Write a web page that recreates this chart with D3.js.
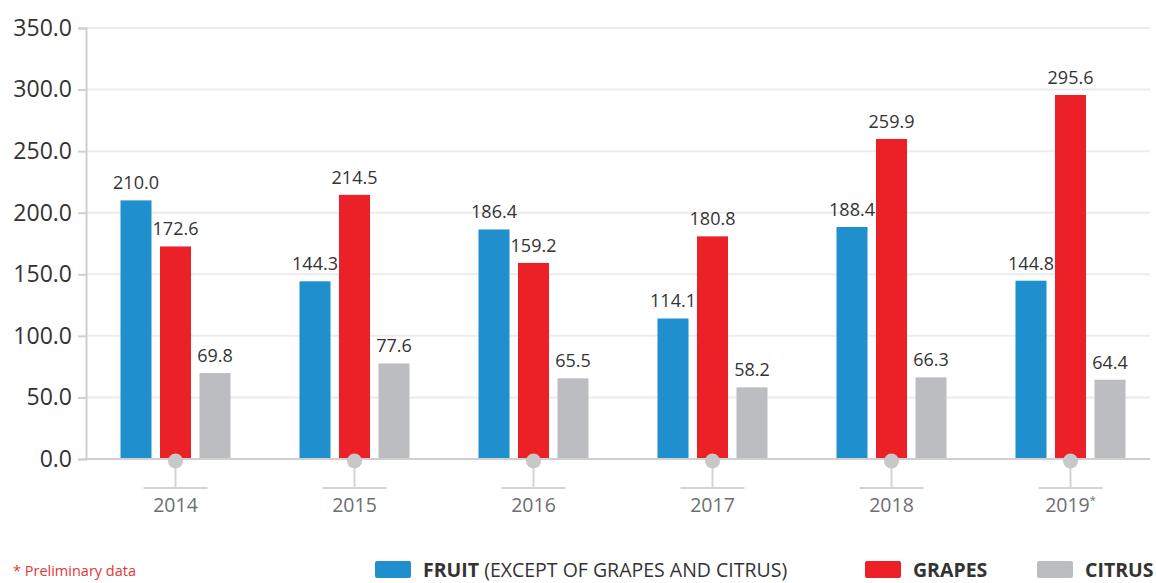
<!DOCTYPE html>
<html>
<head>
<meta charset="utf-8">
<script src="https://cdn.jsdelivr.net/npm/d3@7"></script>
<style>
  body { margin: 0; background: #fff; }
  svg { display: block; font-family: "Open Sans", sans-serif; }
</style>
</head>
<body>
<div id="chart"></div>
<script>
// Chart data
const years = ["2014", "2015", "2016", "2017", "2018", "2019"];
const fruit = [210.0, 144.3, 186.4, 114.1, 188.4, 144.8];
const grapes = [172.6, 214.5, 159.2, 180.8, 259.9, 295.6];
const citrus = [69.8, 77.6, 65.5, 58.2, 66.3, 64.4];
const yTicks = [0, 50, 100, 150, 200, 250, 300, 350];

const seriesNames = ["fruit", "grapes", "citrus"];
const colors = { fruit: "#1f8fce", grapes: "#ec2027", citrus: "#bcbdc0" };

const width = 1156, height = 583;
const plotLeft = 86, plotRight = 1160, plotTop = 28, plotBottom = 459;

const svg = d3.select("#chart").append("svg")
    .attr("width", width)
    .attr("height", height);

const x = d3.scaleBand().domain(years).range([plotLeft, plotRight]).padding(0);
const x1 = d3.scaleBand().domain(seriesNames).range([-55, 55]).paddingInner(0.215).paddingOuter(0);
const y = d3.scaleLinear().domain([0, 350]).range([plotBottom, plotTop]);

// gridlines
svg.append("g")
    .selectAll("line")
    .data(yTicks.filter(d => d > 0))
    .join("line")
    .attr("x1", plotLeft).attr("x2", 1150)
    .attr("y1", d => y(d)).attr("y2", d => y(d))
    .attr("stroke", "#ececec")
    .attr("stroke-width", 2);

// y axis
const yAxis = svg.append("g")
    .attr("transform", `translate(${plotLeft},0)`)
    .call(d3.axisLeft(y).tickValues(yTicks).tickFormat(d3.format(".1f")).tickSize(8).tickPadding(6));
yAxis.select(".domain").attr("stroke", "#cfcfcf").attr("stroke-width", 2);
yAxis.selectAll(".tick line").attr("stroke", "#cfcfcf").attr("stroke-width", 2);
yAxis.selectAll("text")
    .attr("fill", "#333")
    .style("font-size", "23px")
    .style("font-family", "'Open Sans', sans-serif");

// bars
const rows = years.map((yr, i) => ({ year: yr, fruit: fruit[i], grapes: grapes[i], citrus: citrus[i] }));

const groups = svg.append("g")
    .selectAll("g")
    .data(rows)
    .join("g")
    .attr("transform", d => `translate(${x(d.year) + x.bandwidth() / 2},0)`);

groups.selectAll("rect")
    .data(d => seriesNames.map(k => ({ key: k, value: d[k] })))
    .join("rect")
    .attr("x", d => x1(d.key))
    .attr("width", x1.bandwidth())
    .attr("y", d => y(d.value))
    .attr("height", d => y(0) - y(d.value))
    .attr("fill", d => colors[d.key]);

groups.selectAll("text.val")
    .data(d => seriesNames.map(k => ({ key: k, value: d[k] })))
    .join("text")
    .attr("class", "val")
    .attr("x", d => x1(d.key) + x1.bandwidth() / 2)
    .attr("y", d => y(d.value) - 11)
    .attr("text-anchor", "middle")
    .attr("fill", "#333")
    .style("font-size", "18px")
    .text(d => d3.format(".1f")(d.value));

// x baseline
svg.append("line")
    .attr("x1", plotLeft).attr("x2", 1150)
    .attr("y1", plotBottom).attr("y2", plotBottom)
    .attr("stroke", "#cfcfcf")
    .attr("stroke-width", 2);

// x tick markers (circle + stem + bracket)
const ticks = svg.append("g")
    .selectAll("g")
    .data(years)
    .join("g")
    .attr("transform", d => `translate(${x(d) + x.bandwidth() / 2},0)`);

ticks.append("line")
    .attr("x1", 0).attr("x2", 0)
    .attr("y1", plotBottom).attr("y2", 488)
    .attr("stroke", "#d4d4d4").attr("stroke-width", 2);
ticks.append("line")
    .attr("x1", -32).attr("x2", 32)
    .attr("y1", 488).attr("y2", 488)
    .attr("stroke", "#d4d4d4").attr("stroke-width", 2);
ticks.append("circle")
    .attr("cx", 0).attr("cy", 461).attr("r", 7.5)
    .attr("fill", "#c8c8c8");

const yearText = ticks.append("text")
    .attr("y", 512)
    .attr("text-anchor", "middle")
    .attr("fill", "#6d6e71")
    .style("font-size", "19.5px")
    .text(d => d);
yearText.filter(d => d === "2019")
    .append("tspan")
    .attr("dy", -8)
    .style("font-size", "11px")
    .text("*");

// footnote
svg.append("text")
    .attr("x", 13).attr("y", 576)
    .attr("fill", "#e8343a")
    .style("font-size", "14.5px")
    .text("* Preliminary data");

// legend
const legendItems = [
    { key: "fruit", x: 375, bold: "FRUIT", rest: " (EXCEPT OF GRAPES AND CITRUS)" },
    { key: "grapes", x: 865, bold: "GRAPES", rest: "" },
    { key: "citrus", x: 1037, bold: "CITRUS", rest: "" }
];

const legend = svg.append("g")
    .selectAll("g")
    .data(legendItems)
    .join("g")
    .attr("transform", d => `translate(${d.x},0)`);

legend.append("rect")
    .attr("x", 0).attr("y", 561)
    .attr("width", 36).attr("height", 17)
    .attr("rx", 2)
    .attr("fill", d => colors[d.key]);

const lt = legend.append("text")
    .attr("x", 48).attr("y", 577)
    .attr("fill", "#333")
    .style("font-size", "19.5px");
lt.append("tspan").style("font-weight", "bold").text(d => d.bold);
lt.append("tspan").text(d => d.rest);
</script>
</body>
</html>
